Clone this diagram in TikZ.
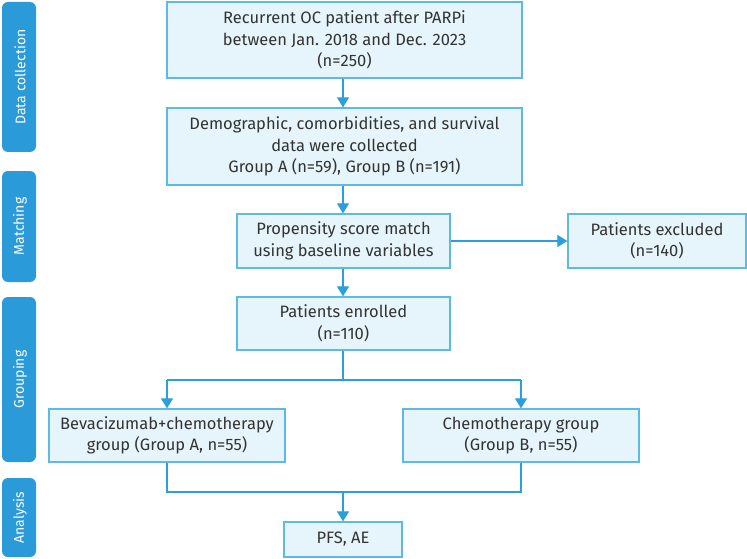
\documentclass[tikz,border=0pt]{standalone}
\usepackage{fontspec}
\setmainfont{Fira Sans}
\usetikzlibrary{arrows.meta}
\definecolor{tabblue}{HTML}{2A9AD8}
\definecolor{boxfill}{HTML}{E6F4FB}
\definecolor{boxline}{HTML}{5DB9E6}
\definecolor{arrowc}{HTML}{2A9FDB}
\definecolor{txt}{HTML}{333333}
\tikzset{
  box/.style={draw=boxline, fill=boxfill, line width=1.3pt, inner sep=0pt, align=center,
    text=txt, font=\fontsize{16.5}{21.5}\selectfont},
  tab/.style={fill=tabblue, rounded corners=6pt, draw=none},
  tablabel/.style={rotate=90, text=white, font=\fontsize{14}{17}\selectfont, inner sep=0pt},
  conn/.style={draw=arrowc, line width=1.2pt},
  arr/.style={conn, -{Triangle[width=12pt,length=10pt]}},
}
\begin{document}
\begin{tikzpicture}[x=1pt, y=-1pt]
\path[use as bounding box] (0,0) rectangle (747,559);
% tabs
\fill[tab] (2,2) rectangle (36,152);
\fill[tab] (2,171) rectangle (36,282);
\fill[tab] (2,297) rectangle (36,462);
\fill[tab] (2,478) rectangle (36,557);
\node[tablabel] (t1) at (20,77) {Data collection};
\node[tablabel] (t2) at (20,226.5) {Matching};
\node[tablabel] (t3) at (20,379.5) {Grouping};
\node[tablabel] (t4) at (20,517.5) {Analysis};
% boxes
\node[box, minimum width=355pt, minimum height=76pt] (b1) at (344.5,40)
  {Recurrent OC patient after PARPi\\between Jan. 2018 and Dec. 2023\\(n=250)};
\node[box, minimum width=355pt, minimum height=77pt] (b2) at (344.5,146.5)
  {Demographic, comorbidities, and survival\\data were collected\\Group A (n=59), Group B (n=191)};
\node[box, minimum width=213pt, minimum height=54pt] (b3) at (343.5,241)
  {Propensity score match\\using baseline variables};
\node[box, minimum width=178pt, minimum height=54pt] (ex) at (657,241)
  {Patients excluded\\(n=140)};
\node[box, minimum width=213pt, minimum height=53pt] (b4) at (343.5,323.5)
  {Patients enrolled\\(n=110)};
\node[box, minimum width=236pt, minimum height=53pt] (bA) at (167,435.5)
  {Bevacizumab+chemotherapy\\group (Group A, n=55)};
\node[box, minimum width=236pt, minimum height=53pt] (bB) at (521,435.5)
  {Chemotherapy group\\(Group B, n=55)};
\node[box, minimum width=118pt, minimum height=35pt] (pfs) at (343,539.5)
  {PFS, AE};
% connectors
\coordinate (s1) at (343,380);
\coordinate (sA) at (167,380);
\coordinate (sB) at (521,380);
\coordinate (m1) at (343,492);
\coordinate (mA) at (167,492);
\coordinate (mB) at (521,492);
\draw[arr] (b1.south -| s1) -- (b2.north -| s1);
\draw[arr] (b2.south -| s1) -- (b3.north -| s1);
\draw[arr] (b3.east) -- (ex.west);
\draw[arr] (b3.south -| s1) -- (b4.north -| s1);
\draw[conn] (b4.south -| s1) -- (s1);
\draw[conn] (sA) -- (sB);
\draw[arr] (sA) -- (bA.north);
\draw[arr] (sB) -- (bB.north);
\draw[conn] (bA.south) -- (mA) -- (mB) -- (bB.south);
\draw[arr] (m1) -- (pfs.north);
\end{tikzpicture}
\end{document}
